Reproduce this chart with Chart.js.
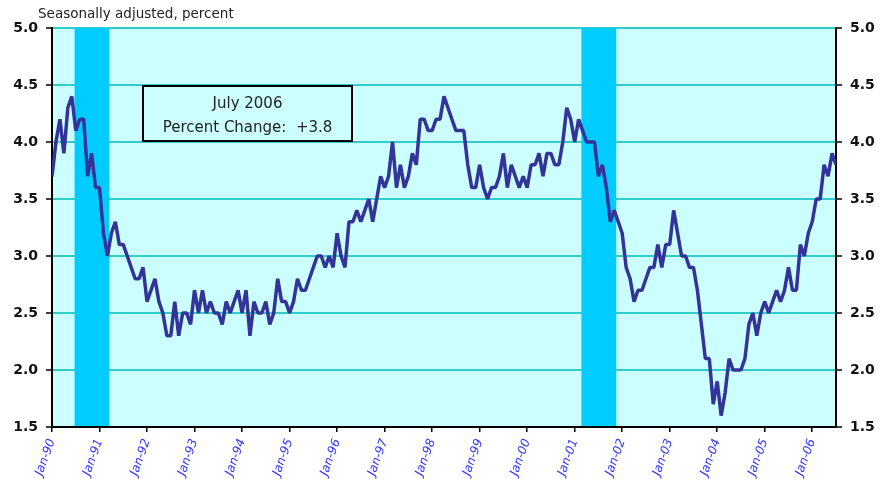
<!DOCTYPE html>
<html>
<head>
<meta charset="utf-8">
<script src="https://cdn.jsdelivr.net/npm/chart.js@4.4.1/dist/chart.umd.min.js"></script>
<style>
  html, body { margin: 0; padding: 0; background: #fff; }
  #wrap { width: 881px; height: 480px; }
</style>
</head>
<body>
<div id="wrap"><canvas id="rateChart" width="881" height="480"></canvas></div>
<script>
'use strict';

// monthly values, seasonally adjusted percent, Jan-90 .. Jul-06
const rate1990 = [3.7, 4.0, 4.2, 3.9, 4.3, 4.4, 4.1, 4.2, 4.2, 3.7, 3.9, 3.6];
const rate1991 = [3.6, 3.2, 3.0, 3.2, 3.3, 3.1, 3.1, 3.0, 2.9, 2.8, 2.8, 2.9];
const rate1992 = [2.6, 2.7, 2.8, 2.6, 2.5, 2.3, 2.3, 2.6, 2.3, 2.5, 2.5, 2.4];
const rate1993 = [2.7, 2.5, 2.7, 2.5, 2.6, 2.5, 2.5, 2.4, 2.6, 2.5, 2.6, 2.7];
const rate1994 = [2.5, 2.7, 2.3, 2.6, 2.5, 2.5, 2.6, 2.4, 2.5, 2.8, 2.6, 2.6];
const rate1995 = [2.5, 2.6, 2.8, 2.7, 2.7, 2.8, 2.9, 3.0, 3.0, 2.9, 3.0, 2.9];
const rate1996 = [3.2, 3.0, 2.9, 3.3, 3.3, 3.4, 3.3, 3.4, 3.5, 3.3, 3.5, 3.7];
const rate1997 = [3.6, 3.7, 4.0, 3.6, 3.8, 3.6, 3.7, 3.9, 3.8, 4.2, 4.2, 4.1];
const rate1998 = [4.1, 4.2, 4.2, 4.4, 4.3, 4.2, 4.1, 4.1, 4.1, 3.8, 3.6, 3.6];
const rate1999 = [3.8, 3.6, 3.5, 3.6, 3.6, 3.7, 3.9, 3.6, 3.8, 3.7, 3.6, 3.7];
const rate2000 = [3.6, 3.8, 3.8, 3.9, 3.7, 3.9, 3.9, 3.8, 3.8, 4.0, 4.3, 4.2];
const rate2001 = [4.0, 4.2, 4.1, 4.0, 4.0, 4.0, 3.7, 3.8, 3.6, 3.3, 3.4, 3.3];
const rate2002 = [3.2, 2.9, 2.8, 2.6, 2.7, 2.7, 2.8, 2.9, 2.9, 3.1, 2.9, 3.1];
const rate2003 = [3.1, 3.4, 3.2, 3.0, 3.0, 2.9, 2.9, 2.7, 2.4, 2.1, 2.1, 1.7];
const rate2004 = [1.9, 1.6, 1.8, 2.1, 2.0, 2.0, 2.0, 2.1, 2.4, 2.5, 2.3, 2.5];
const rate2005 = [2.6, 2.5, 2.6, 2.7, 2.6, 2.7, 2.9, 2.7, 2.7, 3.1, 3.0, 3.2];
const rate2006 = [3.3, 3.5, 3.5, 3.8, 3.7, 3.9, 3.8];

const rate = [].concat(rate1990, rate1991, rate1992, rate1993, rate1994, rate1995,
  rate1996, rate1997, rate1998, rate1999, rate2000, rate2001, rate2002, rate2003,
  rate2004, rate2005, rate2006);

const tickLabels = ['Jan-90', 'Jan-91', 'Jan-92', 'Jan-93', 'Jan-94', 'Jan-95',
  'Jan-96', 'Jan-97', 'Jan-98', 'Jan-99', 'Jan-00', 'Jan-01', 'Jan-02', 'Jan-03',
  'Jan-04', 'Jan-05', 'Jan-06'];

const yTicks = [1.5, 2.0, 2.5, 3.0, 3.5, 4.0, 4.5, 5.0];

// shaded recession periods
const recessionStart = ['Jul-90', 'Mar-01'];
const recessionEnd = ['Mar-91', 'Nov-01'];

const noteLines = ['July 2006', 'Percent Change:  +3.8'];
const caption = 'Seasonally adjusted, percent';

const monthNames = ['Jan', 'Feb', 'Mar', 'Apr', 'May', 'Jun', 'Jul', 'Aug', 'Sep', 'Oct', 'Nov', 'Dec'];

function monthIndex(label) {
  const [mon, yy] = label.split('-');
  const year = Number(yy) < 50 ? 2000 + Number(yy) : 1900 + Number(yy);
  return (year - 1990) * 12 + monthNames.indexOf(mon);
}

const FONT = '"DejaVu Sans", Verdana, sans-serif';

const plotBackground = {
  id: 'plotBackground',
  beforeDraw(chart) {
    const { ctx, chartArea: a } = chart;
    ctx.save();
    ctx.fillStyle = '#CCFFFF';
    ctx.fillRect(a.left, a.top, a.right - a.left, a.bottom - a.top);
    ctx.restore();
  }
};

const recessionBars = {
  id: 'recessionBars',
  beforeDatasetsDraw(chart) {
    const { ctx, chartArea: a, scales } = chart;
    ctx.save();
    ctx.fillStyle = '#00CCFF';
    recessionStart.forEach((s, i) => {
      const x0 = scales.x.getPixelForValue(monthIndex(s) - 0.3);
      const x1 = scales.x.getPixelForValue(monthIndex(recessionEnd[i]) + 0.5);
      ctx.fillRect(x0, a.top, x1 - x0, a.bottom - a.top - 1);
    });
    ctx.restore();
  }
};

const notes = {
  id: 'notes',
  afterDraw(chart) {
    const { ctx, chartArea: a } = chart;
    ctx.save();
    // caption above the plot
    ctx.fillStyle = '#222';
    ctx.font = '13.5px ' + FONT;
    ctx.textAlign = 'left';
    ctx.textBaseline = 'alphabetic';
    ctx.fillText(caption, a.left - 14, 18);

    // note box
    const bx = a.left + 91, by = a.top + 58, bw = 209, bh = 55;
    ctx.fillStyle = '#CCFFFF';
    ctx.fillRect(bx, by, bw, bh);
    ctx.strokeStyle = '#000';
    ctx.lineWidth = 2;
    ctx.strokeRect(bx, by, bw, bh);
    ctx.fillStyle = '#222';
    ctx.font = '15px ' + FONT;
    ctx.textAlign = 'center';
    ctx.fillText(noteLines[0], bx + bw / 2, by + 22);
    ctx.fillText(noteLines[1], bx + bw / 2, by + 46);
    ctx.restore();
  }
};

function yScale(position, width, onArea) {
  return {
    type: 'linear',
    position: position,
    min: yTicks[0],
    max: yTicks[yTicks.length - 1],
    afterBuildTicks: (s) => { s.ticks = yTicks.map(v => ({ value: v })); },
    afterFit: (s) => { s.width = width; },
    ticks: {
      color: '#111',
      padding: 8,
      font: { family: FONT, size: 14, weight: 'bold' },
      callback: (v) => Number(v).toFixed(1)
    },
    grid: {
      drawOnChartArea: onArea,
      color: (c) => (c.tick && c.tick.value === yTicks[0]) ? 'rgba(0,0,0,0)' : '#33CCCC',
      lineWidth: 2,
      tickColor: '#000',
      tickLength: 6,
      tickWidth: 1.5
    },
    border: { color: '#000', width: 2 }
  };
}

document.addEventListener('DOMContentLoaded', () => {
  const ctx = document.getElementById('rateChart').getContext('2d');
  new Chart(ctx, {
    type: 'line',
    data: {
      datasets: [{
        label: 'Percent',
        data: rate.map((v, i) => ({ x: i, y: v })),
        borderColor: '#333399',
        borderWidth: 3.5,
        borderJoinStyle: 'bevel',
        pointRadius: 0,
        tension: 0,
        fill: false
      }]
    },
    options: {
      responsive: false,
      animation: false,
      devicePixelRatio: 1,
      layout: { padding: { top: 28, left: 0, right: 0, bottom: 0 } },
      plugins: {
        legend: { display: false },
        tooltip: { enabled: false }
      },
      scales: {
        x: {
          type: 'linear',
          position: 'bottom',
          min: 0,
          max: rate.length - 1,
          afterBuildTicks: (s) => { s.ticks = tickLabels.map((t, i) => ({ value: i * 12 })); },
          afterFit: (s) => { s.height = 53; },
          ticks: {
            autoSkip: false,
            minRotation: 70,
            maxRotation: 70,
            padding: 5,
            color: '#3333FF',
            font: { family: FONT, size: 12, style: 'italic' },
            callback: (v) => tickLabels[Math.round(v / 12)]
          },
          grid: {
            drawOnChartArea: false,
            color: '#000',
            tickLength: 5,
            lineWidth: 1.5
          },
          border: { color: '#000', width: 2 }
        },
        y: yScale('left', 52, true),
        y2: yScale('right', 45, false)
      }
    },
    plugins: [plotBackground, recessionBars, notes]
  });
});
</script>
</body>
</html>
